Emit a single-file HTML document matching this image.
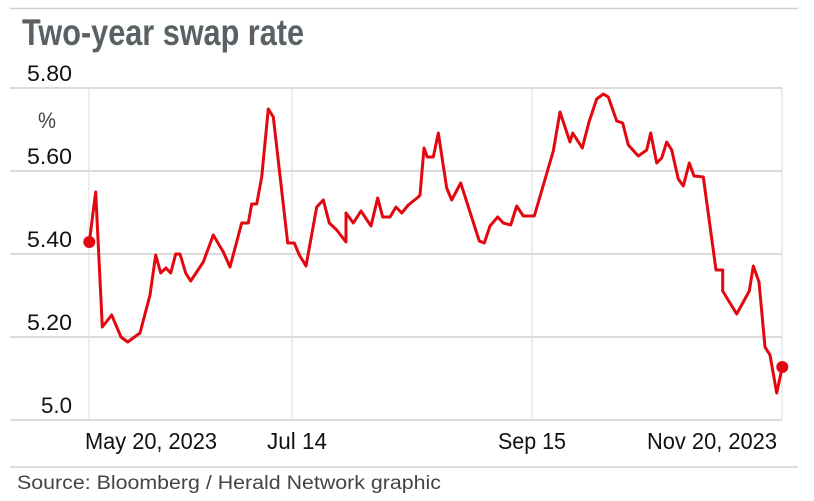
<!DOCTYPE html>
<html><head><meta charset="utf-8"><style>
html,body{margin:0;padding:0;background:#fff;}
svg{display:block;}
</style></head><body>
<svg width="814" height="501" viewBox="0 0 814 501" xmlns="http://www.w3.org/2000/svg">
<rect width="814" height="501" fill="#fff"/>
<line x1="10" y1="8.5" x2="798" y2="8.5" stroke="#d0d0d0" stroke-width="1.5"/>
<text x="22" y="45" font-family="Liberation Sans, sans-serif" font-weight="bold" font-size="37" fill="#5a6164" textLength="282" lengthAdjust="spacingAndGlyphs">Two-year swap rate</text>
<g stroke="#cfcfcf" stroke-width="1.5">
<line x1="10" y1="88" x2="782" y2="88"/>
<line x1="10" y1="171" x2="782" y2="171"/>
<line x1="10" y1="254" x2="782" y2="254"/>
<line x1="10" y1="337" x2="782" y2="337"/>
<line x1="10" y1="420" x2="782" y2="420"/>
</g>
<g stroke="#dcdcdc" stroke-width="1">
<line x1="89" y1="88" x2="89" y2="420"/>
<line x1="292" y1="88" x2="292" y2="420"/>
<line x1="532" y1="88" x2="532" y2="420"/>
<line x1="782" y1="88" x2="782" y2="420"/>
</g>
<g font-family="Liberation Sans, sans-serif" font-size="22" fill="#111">
<text x="27" y="81" textLength="45" lengthAdjust="spacingAndGlyphs">5.80</text>
<text x="38" y="128" textLength="18" lengthAdjust="spacingAndGlyphs" fill="#444">%</text>
<text x="27" y="164" textLength="45" lengthAdjust="spacingAndGlyphs">5.60</text>
<text x="27" y="247" textLength="45" lengthAdjust="spacingAndGlyphs">5.40</text>
<text x="27" y="330" textLength="45" lengthAdjust="spacingAndGlyphs">5.20</text>
<text x="41" y="413" textLength="31" lengthAdjust="spacingAndGlyphs">5.0</text>
</g>
<g font-family="Liberation Sans, sans-serif" font-size="23" fill="#111">
<text x="85" y="449" textLength="132" lengthAdjust="spacingAndGlyphs">May 20, 2023</text>
<text x="267" y="449" textLength="60" lengthAdjust="spacingAndGlyphs">Jul 14</text>
<text x="498" y="449" textLength="68" lengthAdjust="spacingAndGlyphs">Sep 15</text>
<text x="647" y="449" textLength="130" lengthAdjust="spacingAndGlyphs">Nov 20, 2023</text>
</g>
<line x1="10" y1="467" x2="798" y2="467" stroke="#d0d0d0" stroke-width="1.5"/>
<text x="17" y="489" font-family="Liberation Sans, sans-serif" font-size="19" fill="#444" textLength="424" lengthAdjust="spacingAndGlyphs">Source: Bloomberg / Herald Network graphic</text>
<polyline fill="none" stroke="#e3080f" stroke-width="3" stroke-linejoin="round" points="
89.3,242 95.7,192 102.3,327 111.7,315 121,337 127.7,342 140,333 150,295 155.7,255 160.7,273 166,268 170.7,273 175.7,254 180,254 185.7,273 190.7,281 203.3,262 213.3,235 223.3,252 230,267 241.7,223 248.3,223 251.7,204 256.7,204 261.7,177 268.3,109 273.3,117 287.7,243 294.3,243 299.3,255 306,266 316.7,207 323.3,200 329.3,223 336.7,230 346,242 346,213 353.3,223 361,211 371,226 377.7,198 382.7,217 390,217 396,207 401.7,213 408.3,205 418.3,197 420,195 424,148 427.3,157 433.3,157 438.3,133 446.7,188 451.7,200 460.7,183 479.3,241 484.3,243 490,226 497.7,217 503.3,223 510.7,225 516.7,206 523.3,216 534.3,216 553.3,151 560,112 570,142 572.7,133 582.3,148 589,122 596.7,99 603.3,94 608.3,97 616.7,121 622.7,123 628.3,145 638.3,156 646.7,150 650.7,133 656.7,163 661.7,158 666.7,142 671.7,150 678.3,179 683.3,186 689.3,163 694,176 703.3,177 716,270 722.7,270 722.7,291 736.7,314 749.3,291 753.3,266 759,282 765,347 770,355 776.7,393 782.3,367"/>
<circle cx="89.3" cy="242" r="6" fill="#e3080f"/>
<circle cx="782.3" cy="367" r="6" fill="#e3080f"/>
</svg>
</body></html>
